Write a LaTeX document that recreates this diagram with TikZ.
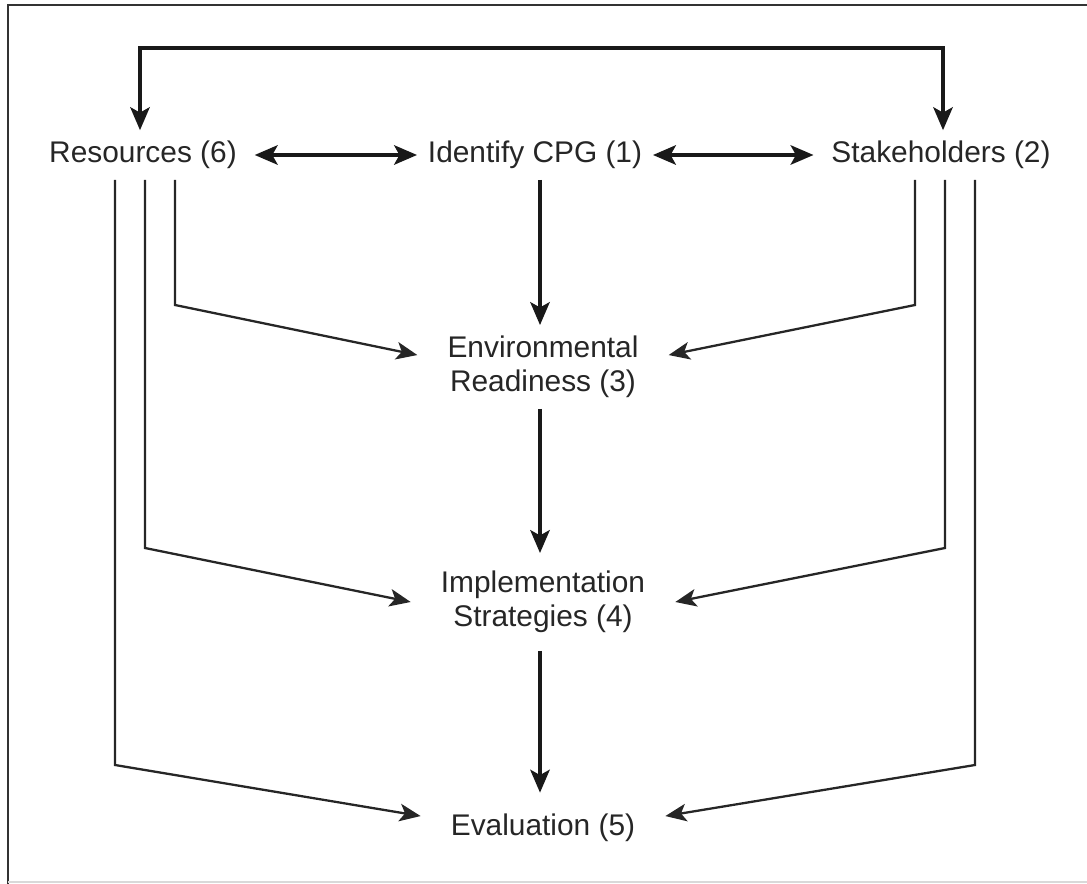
\documentclass[tikz,border=0pt]{standalone}
\usepackage{fontspec}
\setmainfont{Liberation Sans}
\usetikzlibrary{positioning,arrows.meta}

\begin{document}
\begin{tikzpicture}[x=0.02cm,y=-0.02cm,>={Stealth[length=13pt,width=11pt,inset=3pt]},
  lbl/.style={font=\fontsize{17}{19.5}\selectfont,align=center,text=black!85,inner xsep=10pt,inner ysep=6pt},
  mainarr/.style={->,line width=2.2pt,black!90},
  sidearr/.style={->,line width=1.3pt,black!85,>={Stealth[length=12pt,width=10pt,inset=3pt]}}]
\useasboundingbox (0,0) rectangle (1087,884);
% frame
\draw[line width=1.1pt,black!80] (8,884) -- (8,5) -- (1087,5);
\draw[line width=0.6pt,black!15] (8,882) -- (1087,882);
% nodes
\node[lbl] (res) at (143,155) {Resources (6)};
\node[lbl,inner xsep=6pt] (cpg) at (535,155) {Identify CPG (1)};
\node[lbl] (stake) at (941,155) {Stakeholders (2)};
\node[lbl,inner xsep=17pt] (env) at (543,367) {Environmental\\Readiness (3)};
\node[lbl,inner xsep=17pt,inner ysep=10pt] (impl) at (543,602) {Implementation\\Strategies (4)};
\node[lbl,inner xsep=17pt,inner ysep=12pt] (eval) at (543,828) {Evaluation (5)};
% main flow
\draw[mainarr,<->] (res.north -| 140,0) -- (140,48) -- (943,48) -- (stake.north -| 943,0);
\draw[mainarr,<->] (res) -- (cpg);
\draw[mainarr,<->] (cpg) -- (stake);
\draw[mainarr] (cpg.south -| 540,0) -- (env.north -| 540,0);
\draw[mainarr] (env.south -| 540,0) -- (impl.north -| 540,0);
\draw[mainarr] (impl.south -| 540,0) -- (eval.north -| 540,0);
% resources feed
\draw[sidearr] (res.south -| 175,0) -- (175,305) -- ([yshift=6.8pt]env.west);
\draw[sidearr] (res.south -| 145,0) -- (145,548) -- (impl.west);
\draw[sidearr] (res.south -| 115,0) -- (115,765) -- ([yshift=6.8pt]eval.west);
% stakeholders feed
\draw[sidearr] (stake.south -| 915,0) -- (915,305) -- ([yshift=6.8pt]env.east);
\draw[sidearr] (stake.south -| 945,0) -- (945,548) -- (impl.east);
\draw[sidearr] (stake.south -| 975,0) -- (975,765) -- ([yshift=6.8pt]eval.east);
\end{tikzpicture}
\end{document}
